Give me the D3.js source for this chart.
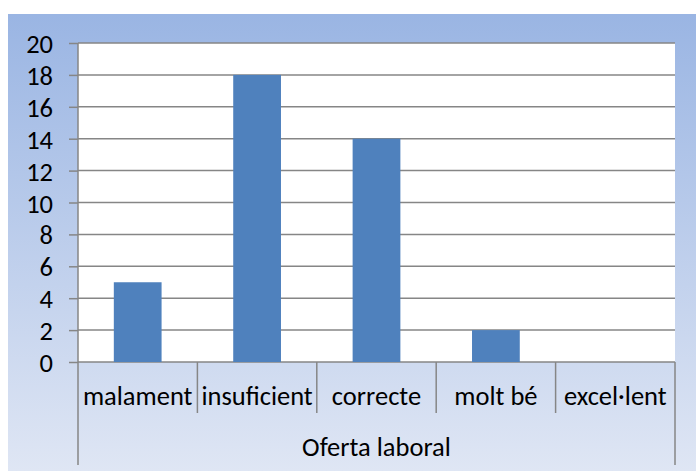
<!DOCTYPE html>
<html>
<head>
<meta charset="utf-8">
<script src="https://cdn.jsdelivr.net/npm/d3@7"></script>
<style>
  body { margin: 0; background: #fff; }
  svg text { font-family: Carlito, "Liberation Sans", Arial, sans-serif; fill: #000; }
</style>
</head>
<body>
<div id="chart"></div>
<script>
// data
let categories = ["malament", "insuficient", "correcte", "molt bé", "excel·lent"];
let values = [5, 18, 14, 2, 0];
let yTicks = [0, 2, 4, 6, 8, 10, 12, 14, 16, 18, 20];
let groupLabel = "Oferta laboral";

let width = 696, height = 471;
let plot = { left: 78, right: 675, top: 43, bottom: 362 };
let axisColor = "#868686";
let fontSize = 26.5;

let svg = d3.select("#chart").append("svg")
    .attr("width", width)
    .attr("height", height);

let grad = svg.append("defs").append("linearGradient")
    .attr("id", "bg")
    .attr("x1", 0).attr("y1", 0).attr("x2", 0).attr("y2", 1);
grad.append("stop").attr("offset", "0%").attr("stop-color", "#9ab5e3");
grad.append("stop").attr("offset", "100%").attr("stop-color", "#dfe6f4");

// chart area background
svg.append("rect")
    .attr("x", 8).attr("y", 14)
    .attr("width", width - 8).attr("height", height - 14)
    .attr("fill", "url(#bg)");

// plot area
svg.append("rect")
    .attr("x", plot.left).attr("y", plot.top)
    .attr("width", plot.right - plot.left).attr("height", plot.bottom - plot.top)
    .attr("fill", "#fff");

let x = d3.scaleBand()
    .domain(categories)
    .range([plot.left, plot.right])
    .paddingInner(0.6)
    .paddingOuter(0.3);

let y = d3.scaleLinear()
    .domain([0, 20])
    .range([plot.bottom, plot.top]);

// gridlines + y axis
let yAxis = d3.axisLeft(y)
    .tickValues(yTicks)
    .tickSize(9)
    .tickPadding(16);

let gy = svg.append("g")
    .attr("transform", `translate(${plot.left},0)`)
    .call(yAxis);
gy.select(".domain").remove();
gy.selectAll(".tick line")
    .attr("stroke", axisColor)
    .attr("stroke-width", 1.5);
gy.selectAll(".tick text")
    .attr("font-size", fontSize)
    .attr("dy", "0.36em");

svg.append("g").selectAll("line")
    .data(yTicks)
    .join("line")
    .attr("x1", plot.left).attr("x2", plot.right)
    .attr("y1", d => y(d)).attr("y2", d => y(d))
    .attr("stroke", axisColor)
    .attr("stroke-width", 1.5);

// bars
svg.append("g").selectAll("rect")
    .data(values)
    .join("rect")
    .attr("x", (d, i) => x(categories[i]))
    .attr("y", d => y(d))
    .attr("width", x.bandwidth())
    .attr("height", d => y(0) - y(d))
    .attr("fill", "#4f81bd");

// vertical axis line
svg.append("line")
    .attr("x1", plot.left).attr("x2", plot.left)
    .attr("y1", plot.top).attr("y2", plot.bottom)
    .attr("stroke", axisColor)
    .attr("stroke-width", 1.5);

// category axis: separators between categories
let step = x.step();
let edges = d3.range(categories.length + 1).map(i => plot.left + i * step);
svg.append("g").selectAll("line")
    .data(edges)
    .join("line")
    .attr("x1", d => d).attr("x2", d => d)
    .attr("y1", plot.bottom)
    .attr("y2", (d, i) => (i === 0 || i === categories.length) ? 465 : 413)
    .attr("stroke", axisColor)
    .attr("stroke-width", 1.5);

svg.append("g").selectAll("text")
    .data(categories)
    .join("text")
    .attr("x", d => x(d) + x.bandwidth() / 2)
    .attr("y", 405)
    .attr("text-anchor", "middle")
    .attr("font-size", fontSize)
    .text(d => d);

svg.append("text")
    .attr("x", (plot.left + plot.right) / 2)
    .attr("y", 456)
    .attr("text-anchor", "middle")
    .attr("font-size", fontSize)
    .text(groupLabel);
</script>
</body>
</html>
